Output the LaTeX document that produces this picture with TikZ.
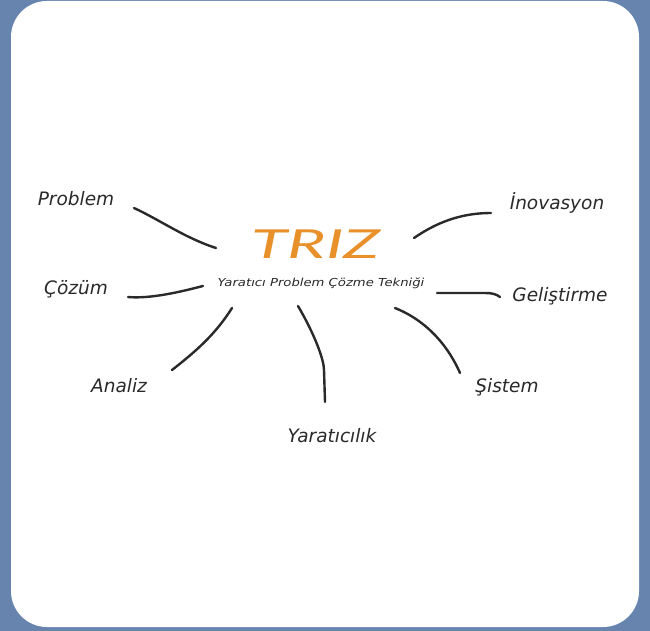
\documentclass[tikz,border=0pt]{standalone}
\usepackage{fontspec}
\setmainfont{DejaVu Sans}
\newfontfamily\trizfont{Lato}
\definecolor{bgblue}{HTML}{6684AE}
\definecolor{trizorange}{HTML}{E8902A}
\definecolor{inkgray}{HTML}{2A2A2A}
\begin{document}
\begin{tikzpicture}[x=1pt,y=-1pt,
  lbl/.style={font=\fontsize{18.5}{20}\selectfont\itshape, text=inkgray, inner sep=0pt},
  stroke/.style={draw=inkgray, line width=2.4pt, line cap=round}]
\fill[bgblue] (0,0) rectangle (650,631);
\fill[white, rounded corners=36pt] (11,1) rectangle (639,627);
\useasboundingbox (0,0) rectangle (650,631);
% center
\node[inner sep=0pt, text=trizorange, font=\trizfont\fontsize{40}{44}\selectfont\itshape, xscale=1.65] (triz) at (316,244) {TRIZ};
\node[inner sep=0pt, text=inkgray, font=\fontsize{11}{13}\selectfont\itshape, xscale=1.2] (sub) at (321,283) {Yaratıcı Problem Çözme Tekniği};
% labels
\node[lbl] (problem) at (76,199) {Problem};
\node[lbl] (cozum) at (76,289) {Çözüm};
\node[lbl] (analiz) at (119,386) {Analiz};
\node[lbl] (yar) at (332,436) {Yaratıcılık};
\node[lbl] (sistem) at (507,387) {Şistem};
\node[lbl] (gelis) at (560,296) {Geliştirme};
\node[lbl] (inov) at (557,203) {İnovasyon};
% connector ends
\coordinate (p1) at (134,208); \coordinate (p2) at (216,248);
\coordinate (c1) at (128,297); \coordinate (c2) at (203,286);
\coordinate (a1) at (172,370); \coordinate (a2) at (232,308);
\coordinate (y1) at (298,306); \coordinate (y2) at (325,402);
\coordinate (s1) at (395,308); \coordinate (s2) at (460,373);
\coordinate (g1) at (437,293); \coordinate (g2) at (500,297);
\coordinate (i1) at (414,238); \coordinate (i2) at (491,213);
\draw[stroke] (p1) .. controls (160,220) and (185,238) .. (p2);
\draw[stroke] (c1) .. controls (150,299) and (180,292) .. (c2);
\draw[stroke] (a1) .. controls (195,352) and (215,335) .. (a2);
\draw[stroke] (y1) .. controls (315,335) and (324,360) .. (324,370) -- (y2);
\draw[stroke] (s1) .. controls (430,322) and (450,350) .. (s2);
\draw[stroke] (g1) -- (485,293) .. controls (492,293) and (496,294) .. (g2);
\draw[stroke] (i1) .. controls (440,220) and (465,213) .. (i2);
\end{tikzpicture}
\end{document}
